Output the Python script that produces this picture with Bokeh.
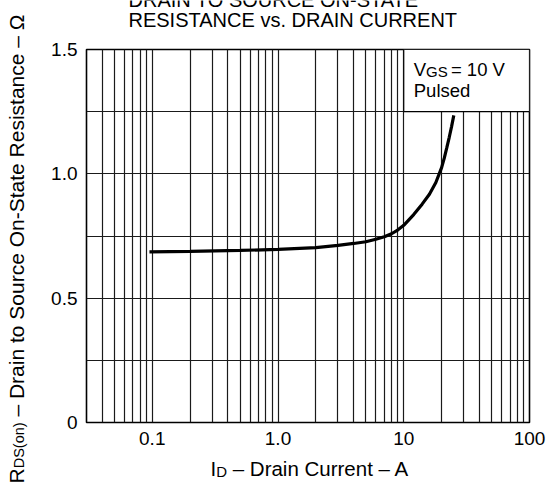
import math
from bokeh.plotting import figure
from bokeh.layouts import row, column
from bokeh.models import FixedTicker, Label, Range1d
from bokeh.core.properties import value
from bokeh.embed import file_html
from bokeh.resources import INLINE

# ---- data ----
drain_current = [0.095, 0.2, 0.5, 1.0, 2.0, 3.0, 4.0, 5.0, 6.0, 7.0, 8.0, 9.0,
                 10.0, 12.0, 14.0, 16.0, 18.0, 20.0, 21.0, 22.0, 23.0, 24.0, 25.0]
rds_on = [0.686, 0.688, 0.692, 0.696, 0.703, 0.712, 0.720, 0.727, 0.737, 0.747,
          0.759, 0.775, 0.793, 0.836, 0.878, 0.918, 0.965, 1.025, 1.063, 1.105,
          1.147, 1.190, 1.235]

x_ticks = [0.1, 1.0, 10.0, 100.0]
x_tick_labels = ["0.1", "1.0", "10", "100"]
y_ticks = [0.0, 0.5, 1.0, 1.5]
y_tick_labels = ["0", "0.5", "1.0", "1.5"]
y_grid = [0.25, 0.5, 0.75, 1.0, 1.25]
decades = [0.01, 0.1, 1.0, 10.0]
x_grid = [d * m for d in decades for m in range(1, 10) if 0.03 < d * m < 100]

x_min, x_max = 0.03, 100.0
y_min, y_max = 0.0, 1.5
note_box = dict(left=10.0, right=100.0, bottom=1.25, top=1.5)

title_lines = ["DRAIN TO SOURCE ON-STATE", "RESISTANCE vs. DRAIN CURRENT"]
y_title = ["R", "DS(on)", "\u2013 Drain to Source On-State Resistance \u2013 \u03a9"]
x_title = ["I", "D", "\u2013 Drain Current \u2013 A"]
note_text = ["V", "GS", "= 10 V", "Pulsed"]

FONT = "Liberation Sans"
BASE = 0.42          # measured drop of the rendered baseline, in em
W, H = 548, 490
LEFT_W = 34          # strip holding the rotated y title
TOP_H = 34           # strip holding the title
BOT_H = 34           # strip holding the x title
MAIN_W = W - LEFT_W
MAIN_H = H - TOP_H - BOT_H
FRAME_L, FRAME_R, FRAME_T, FRAME_B = 86, 529, 49, 422   # page pixels


def text_fig(w, h, xr):
    f = figure(width=w, height=h, x_range=Range1d(*xr), y_range=Range1d(0, h),
               output_backend="svg", toolbar_location=None, min_border=0,
               x_axis_location=None, y_axis_location=None,
               background_fill_color="white", border_fill_color="white")
    f.outline_line_color = None
    f.grid.visible = False
    return f


def put(f, x, y, text, size, angle=0.0):
    f.text(x=[x], y=[y], text=[text], angle=angle,
           text_font=value(FONT), text_font_size=value(f"{size}px"),
           text_color="black", text_align="left", text_baseline="alphabetic")


# ---- main chart ----
p = figure(width=MAIN_W, height=MAIN_H, x_axis_type="log",
           x_range=(x_min, x_max), y_range=(y_min, y_max),
           output_backend="svg", toolbar_location=None,
           min_border_left=FRAME_L - LEFT_W, min_border_right=W - FRAME_R,
           min_border_top=FRAME_T - TOP_H, min_border_bottom=TOP_H + MAIN_H - FRAME_B,
           background_fill_color="white", border_fill_color="white")

p.outline_line_color = "black"
p.outline_line_width = 1.6
p.outline_line_alpha = 1.0

p.xgrid.ticker = FixedTicker(ticks=x_grid)
p.ygrid.ticker = FixedTicker(ticks=y_grid)
for g in (p.xgrid, p.ygrid):
    g.grid_line_color = "#1a1a1a"
    g.grid_line_width = 1.2
    g.grid_line_alpha = 1.0

p.xaxis.ticker = FixedTicker(ticks=x_ticks)
p.xaxis.major_label_overrides = {t: l for t, l in zip(x_ticks, x_tick_labels)}
p.yaxis.ticker = FixedTicker(ticks=y_ticks)
p.yaxis.major_label_overrides = {t: l for t, l in zip(y_ticks, y_tick_labels)}
for ax in (p.xaxis, p.yaxis):
    ax.axis_line_color = None
    ax.major_tick_line_color = None
    ax.minor_tick_line_color = None
    ax.major_tick_in = 0
    ax.major_tick_out = 0
    ax.minor_tick_in = 0
    ax.minor_tick_out = 0
    ax.major_label_text_font = FONT
    ax.major_label_text_font_size = "19px"
    ax.major_label_text_color = "black"
    ax.major_label_standoff = 9

# note box (blanks the grid behind the condition text)
p.quad(left=[note_box["left"]], right=[note_box["right"]],
       bottom=[note_box["bottom"]], top=[note_box["top"]],
       fill_color="white", line_color="black", line_width=1.2)

p.line(drain_current, rds_on, line_color="black", line_width=3.2)


def note(text, dx, base_y, size):
    p.add_layout(Label(x=note_box["left"], y=note_box["top"], x_offset=dx,
                       y_offset=-(base_y - FRAME_T) + BASE * size,
                       text=text, text_font=FONT, text_font_size=f"{size}px",
                       text_color="black", text_align="left",
                       text_baseline="alphabetic"))


NS, SS = 18.5, 15.0
note(note_text[0], 10, 77, NS)
note(note_text[1], 10 + 0.667 * NS, 77.5, SS)
note(note_text[2], 10 + 0.667 * NS + 1.389 * SS + 4, 77, NS)
note(note_text[3], 10, 98, NS)

# ---- title strip (x in page pixels because the column aligns frames) ----
t = text_fig(MAIN_W, TOP_H, (FRAME_L, FRAME_R))
TS = 20
put(t, 128, TOP_H - 7.5 + BASE * TS, title_lines[0], TS)
put(t, 128, TOP_H - 28 + BASE * TS, title_lines[1], TS)

# ---- x title strip ----
b = text_fig(MAIN_W, BOT_H, (FRAME_L, FRAME_R))
XS, XSS = 20.5, 15.0
bx = 210
by = H - 477
put(b, bx, by + BASE * XS, x_title[0], XS)
put(b, bx + 0.278 * XS, by + BASE * XSS, x_title[1], XSS)
put(b, bx + 0.278 * XS + 0.722 * XSS + 0.278 * XS, by + BASE * XS, x_title[2], XS)

# ---- y title strip (rotated, reading upwards) ----
l = text_fig(LEFT_W, H, (0, LEFT_W))
YS, YSS = 21.0, 14.5
up = math.pi / 2
lx = 25
ly = H - 483
put(l, lx - BASE * YS, ly, y_title[0], YS, up)
put(l, lx - BASE * YSS, ly + 0.722 * YS, y_title[1], YSS, up)
put(l, lx - BASE * YS, ly + 0.722 * YS + 3.167 * YSS + 0.278 * YS, y_title[2], YS, up)

layout = row(l, column(t, p, b, spacing=0), spacing=0)
open("out.html", "w").write(file_html(layout, INLINE))
